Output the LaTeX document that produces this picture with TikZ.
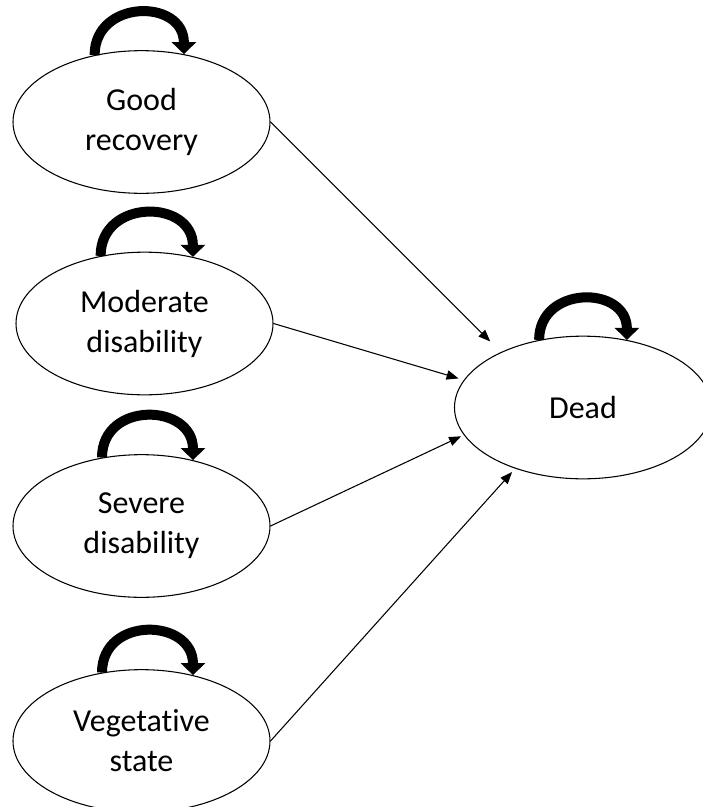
\documentclass[tikz,border=0pt]{standalone}
\usepackage{fontspec}
\setmainfont{Carlito}[Ligatures=NoCommon]
\usetikzlibrary{shapes.geometric,arrows.meta}

\begin{document}
\begin{tikzpicture}[x=0.75pt,y=0.75pt,
		state/.style={ellipse,draw,line width=0.8pt,minimum width=192.75pt,minimum height=107pt,inner sep=0pt,align=center,font=\fontsize{24}{30}\selectfont},
		trans/.style={-{Triangle[length=9pt,width=7pt]},line width=0.8pt},
		stay/.style={-{Triangle[length=9pt,width=18pt]},line width=7.5pt}]
		\useasboundingbox (0,0) rectangle (703,-807);
		\node[state] (good) at (141.5,-122) {Good\\recovery};
		\node[state] (moderate) at (144.5,-323.5) {Moderate\\disability};
		\node[state] (severe) at (141.5,-526) {Severe\\disability};
		\node[state] (vegetative) at (141.5,-741) {Vegetative\\state};
		\node[state] (dead) at (583,-407.5) {Dead};
		% staying in the same state
		\foreach \n/\a/\b in {good/125/58,moderate/123/54,severe/120/52,vegetative/120/52,dead/123/57}
			\draw[stay] (\n.\a) to[out=90,in=90,looseness=1.6] (\n.\b);
		% moving to dead
		\foreach \n/\a/\s in {good/146.3/11.25pt,moderate/167.3/4.1pt,severe/193.5/2.25pt,vegetative/222.8/3.4pt}
			\draw[trans,shorten >=\s] (\n.east) -- (dead.\a);
	\end{tikzpicture}
\end{document}
